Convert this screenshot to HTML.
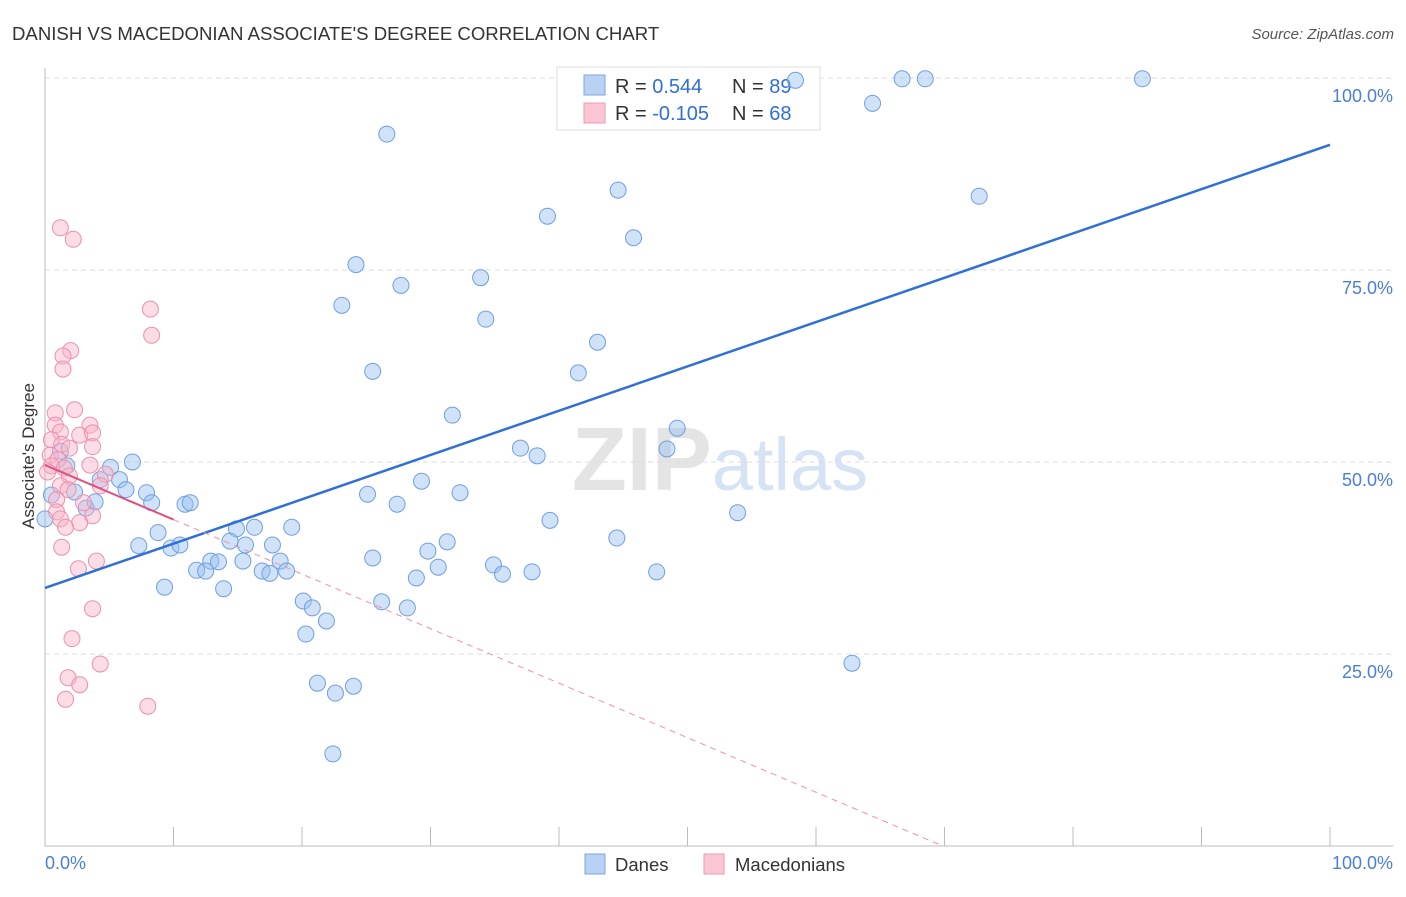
<!DOCTYPE html>
<html><head><meta charset="utf-8"><style>
body{margin:0;background:#fff;font-family:"Liberation Sans",sans-serif}
svg text{font-family:"Liberation Sans",sans-serif}
</style></head><body>
<svg id="chart" width="1406" height="892" xmlns="http://www.w3.org/2000/svg">
<text x="12" y="40" font-size="18.6" fill="#333">DANISH VS MACEDONIAN ASSOCIATE'S DEGREE CORRELATION CHART</text>
<text x="1394" y="39" font-size="15" fill="#555" text-anchor="end" font-style="italic">Source: ZipAtlas.com</text>
<text x="720" y="490" font-size="90" text-anchor="middle" fill="#e4e4e4" font-family="Liberation Serif"><tspan font-weight="bold">ZIP</tspan><tspan fill="#d5e3f5" font-family="Liberation Sans" font-size="74">atlas</tspan></text>
<g id="grid"></g>
<g id="axes"></g>
<text transform="translate(34,456) rotate(-90)" font-size="17" fill="#333" text-anchor="middle">Associate's Degree</text>
<text x="45" y="869" font-size="18" fill="#4a7fd4">0.0%</text>
<text x="1393" y="869" font-size="18" fill="#4a7fd4" text-anchor="end">100.0%</text>
<g>
<rect x="557" y="67" width="263" height="63" fill="#fff" stroke="#ddd"/>
<rect x="584" y="75" width="21" height="20" fill="#b9d2f4" stroke="#7ea6e0"/>
<rect x="584" y="103" width="21" height="20" fill="#fac6d4" stroke="#ee9ab2"/>
<text x="615" y="93" font-size="20" fill="#333">R = <tspan fill="#2f6fd6"> 0.544</tspan><tspan x="732">N = </tspan><tspan fill="#2f6fd6">89</tspan></text>
<text x="615" y="120" font-size="20" fill="#333">R = <tspan fill="#2f6fd6">-0.105</tspan><tspan x="732">N = </tspan><tspan fill="#2f6fd6">68</tspan></text>
</g>
<g id="points"></g>
<g id="lines"></g>
<g>
<rect x="585" y="854" width="20" height="20" fill="#b9d2f4" stroke="#7ea6e0"/>
<text x="615" y="871" font-size="18.5" fill="#333">Danes</text>
<rect x="704" y="854" width="20" height="20" fill="#fac6d4" stroke="#ee9ab2"/>
<text x="735" y="871" font-size="18.5" fill="#333">Macedonians</text>
</g>
</svg>
<script>
const yTicks=[25,50,75,100];
const yTickLabels=["25.0%","50.0%","75.0%","100.0%"];
const xTicks=[0,10,20,30,40,50,60,70,80,90,100];
const danesX=[58.4,66.7,68.5,85.4,64.4,26.6,44.6,39.1,45.8,72.7,24.2,33.9,27.7,23.1,34.3,43.0,25.5,41.5,31.7,49.2,37.0,38.3,48.4,6.8,5.1,1.7,1.2,0.5,2.3,4.3,5.8,6.3,7.9,8.3,3.2,3.9,10.9,11.3,29.3,25.1,32.3,27.4,39.3,53.9,44.5,8.8,7.3,9.8,10.5,14.9,16.3,19.2,14.4,15.6,17.7,31.3,29.8,25.5,12.9,13.5,15.4,18.3,11.8,12.5,16.9,17.5,18.8,30.6,34.9,35.6,37.9,47.6,28.9,9.3,13.9,20.1,20.8,26.2,28.2,21.9,20.3,62.8,21.2,24.0,22.6,22.4,0.0];
const danesY=[99.7,99.9,99.9,99.9,96.7,92.7,85.4,82.0,79.2,84.6,75.7,74.0,73.0,70.4,68.6,65.6,61.8,61.6,56.1,54.4,51.8,50.8,51.7,50.0,49.3,49.5,51.4,45.7,46.1,47.7,47.7,46.4,46.0,44.7,44.0,44.8,44.5,44.7,47.5,45.8,46.0,44.5,42.4,43.4,40.1,40.8,39.1,38.8,39.2,41.3,41.5,41.5,39.7,39.2,39.2,39.6,38.4,37.5,37.1,37.0,37.1,37.1,35.9,35.8,35.8,35.5,35.8,36.3,36.6,35.4,35.7,35.7,34.9,33.7,33.5,31.9,31.0,31.8,31.0,29.3,27.6,23.8,21.2,20.8,19.9,12.0,42.6];
const macX=[1.2,2.2,8.2,8.3,2.0,1.4,1.4,2.3,0.8,3.5,0.8,1.2,2.7,3.7,0.5,1.3,1.9,3.7,0.4,1.0,0.5,1.5,3.5,0.2,1.9,4.7,1.2,1.8,4.3,0.9,3.0,0.9,1.2,3.7,2.7,1.6,1.3,4.0,2.6,3.7,2.1,4.3,1.8,2.7,1.6,8.0];
const macY=[80.5,79.0,69.9,66.5,64.5,63.8,62.1,56.8,56.4,54.8,54.8,53.9,53.5,53.8,52.9,52.3,51.8,52.0,50.9,50.3,49.5,49.2,49.6,48.7,48.2,48.4,46.9,46.4,46.9,45.1,44.7,43.5,42.6,43.0,42.1,41.5,38.9,37.1,36.1,30.9,27.0,23.7,21.9,21.0,19.1,18.2];
const danesTrend=[33.6,91.3];
const macTrend=[49.6,-0.71];
const NS="http://www.w3.org/2000/svg";
const X=v=>45+v*12.85, Y=v=>846-v*7.68;
function mk(tag,attrs,parent){const e=document.createElementNS(NS,tag);for(const k in attrs)e.setAttribute(k,attrs[k]);document.getElementById(parent).appendChild(e);return e;}
yTicks.forEach((t,i)=>{
 const g=mk('line',{x1:45,x2:1393,y1:Y(t),y2:Y(t),stroke:'#ddd','stroke-dasharray':'5,4'},'grid');
 
 
 const l=mk('text',{x:1393,y:Y(t)+24,'font-size':18,fill:'#4a7fd4','text-anchor':'end'},'grid');
 l.textContent=yTickLabels[i];
 
 
});
const ax=mk('line',{x1:45,x2:1393,y1:846,y2:846,stroke:'#bbb'},'axes');


const ay=mk('line',{x1:45,x2:45,y1:68,y2:846,stroke:'#bbb'},'axes');


xTicks.forEach(t=>{
 const e=mk('line',{x1:X(t),x2:X(t),y1:827,y2:846,stroke:'#bbb'},'axes');
 
 
});
danesX.forEach((x,i)=>{
 const c=mk('circle',{cx:X(x),cy:Y(danesY[i]),r:8,fill:'rgba(150,190,240,0.45)',stroke:'#6f9fe0','stroke-width':1},'points');
 
 
});
macX.forEach((x,i)=>{
 const c=mk('circle',{cx:X(x),cy:Y(macY[i]),r:8,fill:'rgba(248,180,200,0.45)',stroke:'#ee8fac','stroke-width':1},'points');
 
 
});
const bl=mk('line',{x1:X(0),y1:Y(danesTrend[0]),x2:X(100),y2:Y(danesTrend[1]),stroke:'#2f6fd6','stroke-width':2.5},'lines');


const xEnd=-macTrend[0]/macTrend[1];
const pd=mk('line',{x1:X(10),y1:Y(macTrend[0]+macTrend[1]*10),x2:X(xEnd),y2:Y(0),stroke:'#ee8fac','stroke-width':1,'stroke-dasharray':'6,5'},'lines');


const ps=mk('line',{x1:X(0),y1:Y(macTrend[0]),x2:X(10),y2:Y(macTrend[0]+macTrend[1]*10),stroke:'#e0507e','stroke-width':2},'lines');


</script>
</body></html>
